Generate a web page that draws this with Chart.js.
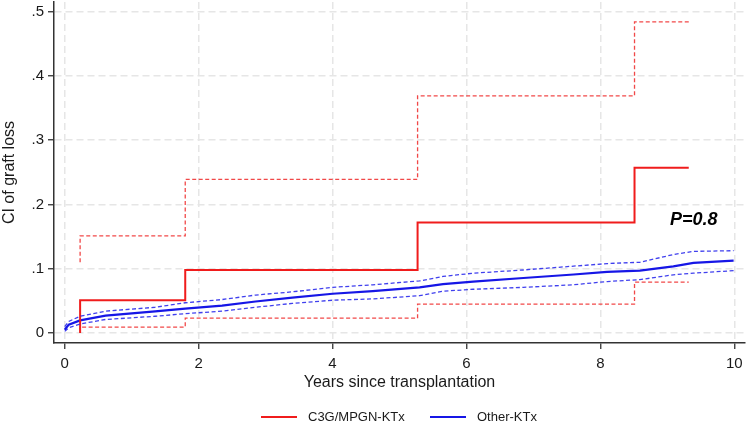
<!DOCTYPE html>
<html>
<head>
<meta charset="utf-8">
<script src="https://cdn.jsdelivr.net/npm/chart.js@4.4.1/dist/chart.umd.min.js"></script>
<style>
  html, body { margin: 0; padding: 0; background: #ffffff; overflow: hidden; }
  #wrap { width: 747px; height: 423px; }
</style>
</head>
<body>
<div id="wrap"><canvas id="cif-chart"></canvas></div>
<script>
"use strict";

// C3G/MPGN-KTx step function (value holds from each time onward)
const c3gTimes = [0.23, 0.23, 1.80, 5.27, 8.51, 9.32];
const c3gCif = [0, 0.051, 0.098, 0.172, 0.257, 0.257];
const c3gUpperTimes = [0.23, 0.23, 1.80, 5.27, 8.51, 9.32];
const c3gUpper = [0.110, 0.151, 0.239, 0.369, 0.484, 0.484];
const c3gLowerTimes = [0.23, 0.23, 1.80, 5.27, 8.51, 9.32];
const c3gLower = [0.002, 0.009, 0.023, 0.045, 0.079, 0.079];

// Other-KTx
const otherTimes = [0, 0.06, 0.23, 0.61, 1.35, 1.8, 2.35, 2.85, 3.4, 4.0, 4.6, 5.3, 5.65, 6.1, 6.85, 7.6, 8.1, 8.59, 9.09, 9.39, 9.99];
const otherCif = [0.005, 0.013, 0.0196, 0.027, 0.0336, 0.038, 0.0425, 0.049, 0.055, 0.061, 0.065, 0.071, 0.076, 0.080, 0.0855, 0.091, 0.095, 0.097, 0.1036, 0.109, 0.1125];
const otherUpper = [0.010, 0.018, 0.026, 0.034, 0.040, 0.047, 0.052, 0.059, 0.064, 0.071, 0.075, 0.081, 0.088, 0.093, 0.098, 0.104, 0.108, 0.110, 0.122, 0.127, 0.128];
const otherLower = [0.0025, 0.008, 0.014, 0.021, 0.026, 0.030, 0.034, 0.040, 0.046, 0.051, 0.053, 0.058, 0.065, 0.068, 0.071, 0.075, 0.080, 0.083, 0.0905, 0.093, 0.097];

const xTicks = [0, 2, 4, 6, 8, 10];
const yTicks = [0, 0.1, 0.2, 0.3, 0.4, 0.5];
const seriesNames = ['C3G/MPGN-KTx', 'Other-KTx'];
const xTitle = 'Years since transplantation';
const yTitle = 'CI of graft loss';
const pValueText = 'P=0.8';
const pValuePos = { x: 9.04, y: 0.175 };

const RED = 'rgb(240, 28, 28)';
const RED_DASH = 'rgba(238, 40, 40, 0.85)';
const BLUE = 'rgb(22, 22, 230)';
const BLUE_DASH = 'rgba(30, 30, 235, 0.85)';
const FONT = '"Liberation Sans", Arial, sans-serif';

function pairs(xs, ys) {
    return xs.map((x, i) => ({ x: x, y: ys[i] }));
}

function yLabel(v) {
    if (Math.abs(v) < 1e-9) return '0';
    return v.toFixed(1).replace(/^0/, '');
}

// drop the edge padding Chart.js reserves for tick labels
function noEdgePadding(scale) {
    scale.paddingTop = 0;
    scale.paddingBottom = 0;
    scale.paddingLeft = 0;
    scale.paddingRight = 0;
}

/**
 * Axis titles, legend and p-value annotation
 */
const extrasPlugin = {
    id: 'extras',
    afterDraw(chart) {
        const { ctx, chartArea, scales } = chart;
        const cx = (chartArea.left + chartArea.right) / 2;

        ctx.save();
        ctx.fillStyle = '#1a1a1a';
        ctx.font = '16px ' + FONT;
        ctx.textAlign = 'center';
        ctx.textBaseline = 'middle';
        ctx.fillText(xTitle, cx, 383);

        ctx.save();
        ctx.translate(10, (chartArea.top + chartArea.bottom) / 2);
        ctx.rotate(-Math.PI / 2);
        ctx.fillText(yTitle, 0, 0);
        ctx.restore();

        // legend
        ctx.font = '13px ' + FONT;
        ctx.textAlign = 'left';
        const legendY = 417;
        const colors = [RED, BLUE];
        const starts = [261, 430];
        seriesNames.forEach((name, i) => {
            ctx.strokeStyle = colors[i];
            ctx.lineWidth = 2;
            ctx.beginPath();
            ctx.moveTo(starts[i], legendY);
            ctx.lineTo(starts[i] + 36, legendY);
            ctx.stroke();
            ctx.fillStyle = '#1a1a1a';
            ctx.fillText(name, starts[i] + 47, legendY);
        });

        // p-value
        ctx.font = 'italic bold 18px ' + FONT;
        ctx.fillStyle = '#000000';
        ctx.fillText(pValueText, scales.x.getPixelForValue(pValuePos.x), scales.y.getPixelForValue(pValuePos.y));
        ctx.restore();
    }
};

function initChart() {
    const canvas = document.getElementById('cif-chart');
    const ctx = canvas.getContext('2d');

    const gridCommon = {
        color: '#e6e6e6',
        lineWidth: 1.5,
        drawTicks: true,
        tickLength: 6,
        tickColor: '#333333',
        tickWidth: 1.3,
        tickBorderDash: []
    };

    new Chart(ctx, {
        type: 'line',
        data: {
            datasets: [
                {
                    label: 'Other-KTx lower',
                    data: pairs(otherTimes, otherLower),
                    borderColor: BLUE_DASH,
                    borderWidth: 1.3,
                    borderDash: [4, 2.5]
                },
                {
                    label: 'Other-KTx upper',
                    data: pairs(otherTimes, otherUpper),
                    borderColor: BLUE_DASH,
                    borderWidth: 1.3,
                    borderDash: [4, 2.5]
                },
                {
                    label: 'C3G lower',
                    data: pairs(c3gLowerTimes, c3gLower),
                    borderColor: RED_DASH,
                    borderWidth: 1.3,
                    borderDash: [4, 2.5],
                    stepped: 'before'
                },
                {
                    label: 'C3G upper',
                    data: pairs(c3gUpperTimes, c3gUpper),
                    borderColor: RED_DASH,
                    borderWidth: 1.3,
                    borderDash: [4, 2.5],
                    stepped: 'before'
                },
                {
                    label: seriesNames[0],
                    data: pairs(c3gTimes, c3gCif),
                    borderColor: RED,
                    borderWidth: 2,
                    stepped: 'before'
                },
                {
                    label: seriesNames[1],
                    data: pairs(otherTimes, otherCif),
                    borderColor: BLUE,
                    borderWidth: 2.2
                }
            ]
        },
        options: {
            responsive: true,
            maintainAspectRatio: false,
            animation: false,
            elements: {
                point: { radius: 0 },
                line: { tension: 0, fill: false }
            },
            layout: { padding: { top: 2, right: 2, left: 0, bottom: 0 } },
            plugins: {
                legend: { display: false },
                tooltip: { enabled: false }
            },
            scales: {
                x: {
                    type: 'linear',
                    min: -0.16,
                    max: 10.16,
                    afterBuildTicks: (scale) => { scale.ticks = xTicks.map(v => ({ value: v })); },
                    afterFit: (scale) => { scale.height = 80; noEdgePadding(scale); },
                    ticks: {
                        color: '#1a1a1a',
                        font: { family: FONT, size: 15 },
                        padding: 6,
                        maxRotation: 0,
                        autoSkip: false
                    },
                    grid: gridCommon,
                    border: { display: true, color: '#333333', width: 1.5, dash: [7, 4] }
                },
                y: {
                    type: 'linear',
                    min: -0.0156,
                    max: 0.515,
                    afterBuildTicks: (scale) => { scale.ticks = yTicks.map(v => ({ value: v })); },
                    afterFit: (scale) => { scale.width = 54; noEdgePadding(scale); },
                    ticks: {
                        color: '#1a1a1a',
                        font: { family: FONT, size: 15 },
                        padding: 4,
                        autoSkip: false,
                        callback: (value) => yLabel(value)
                    },
                    grid: gridCommon,
                    border: { display: true, color: '#333333', width: 1.5, dash: [7, 4] }
                }
            }
        },
        plugins: [extrasPlugin]
    });
}

document.addEventListener('DOMContentLoaded', initChart);
</script>
</body>
</html>
